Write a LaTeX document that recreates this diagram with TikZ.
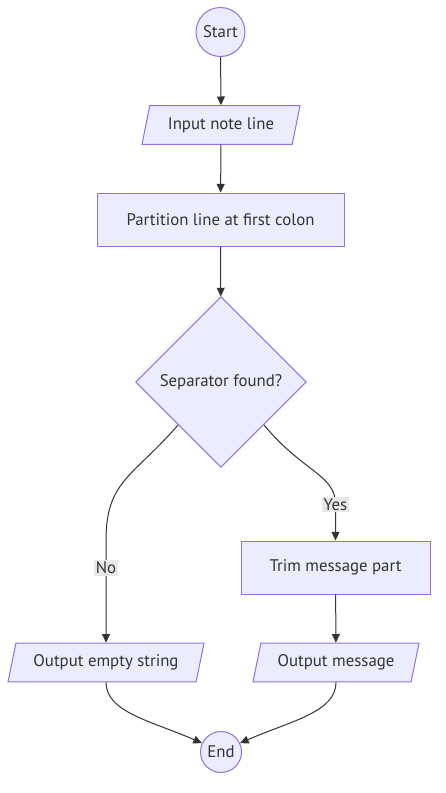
\documentclass[tikz,border=0pt]{standalone}
\usepackage{fontspec}
\setmainfont{PT Sans}
\usetikzlibrary{shapes.geometric,arrows.meta}
\definecolor{nodefill}{HTML}{ECECFF}
\definecolor{nodeline}{HTML}{9370DB}
\definecolor{edgeline}{HTML}{333333}
\definecolor{labelbg}{HTML}{E8E8E8}
\begin{document}
\begin{tikzpicture}[x=0.75pt,y=-0.75pt,
    font=\fontsize{12.6}{15}\selectfont, text=edgeline,
    box/.style={draw=nodeline,fill=nodefill,line width=0.75pt,inner sep=0pt},
    term/.style={box,circle},
    proc/.style={box,rectangle,minimum height=39.75pt},
    io/.style={box,trapezium,trapezium left angle=63,trapezium right angle=117,
      trapezium stretches body,minimum height=29pt},
    choice/.style={box,diamond,minimum size=128pt},
    edge/.style={draw=edgeline,line width=0.75pt,-{Triangle[length=6.5pt,width=6pt]}},
    lbl/.style={fill=labelbg,inner sep=1.5pt}]
  \useasboundingbox (0,0) rectangle (446,793);
  \node[term,minimum size=36.75pt] (start) at (220.5,32) {Start};
  \node[io,minimum width=118.5pt] (inp) at (221,125) {Input note line};
  \node[proc,minimum width=185.25pt] (part) at (220.5,219.5) {Partition line at first colon};
  \node[choice] (sep) at (221,382) {Separator found?};
  \node[proc,minimum width=141.75pt] (trim) at (335.5,567.5) {Trim message part};
  \node[io,minimum width=147pt] (outempty) at (106,662.5) {Output empty string};
  \node[io,minimum width=124.5pt] (outmsg) at (336,662.5) {Output message};
  \node[term,minimum size=30.75pt] (stop) at (221,752) {End};
  \coordinate (nobend) at (outempty.north |- trim.north);
  \coordinate (yesbend) at ([yshift=27pt]trim.north);
  \begin{scope}[edge]
    \draw (start) -- (inp);
    \draw (inp) -- (part);
    \draw (part) -- (sep);
    \draw (sep.south west) .. controls +(-45,52) and +(0,-60) .. (nobend)
      -- node[lbl,pos=0.27] {No} (outempty.north);
    \draw (sep.south east) .. controls +(40,48) and +(0,-30) .. (yesbend)
      node[lbl] {Yes} -- (trim.north);
    \draw (trim) -- (outmsg);
    \draw (outempty.south) .. controls +(0,30) and +(-50,-22) .. (stop.155);
    \draw (outmsg.south) .. controls +(0,30) and +(50,-22) .. (stop.25);
  \end{scope}
\end{tikzpicture}
\end{document}
